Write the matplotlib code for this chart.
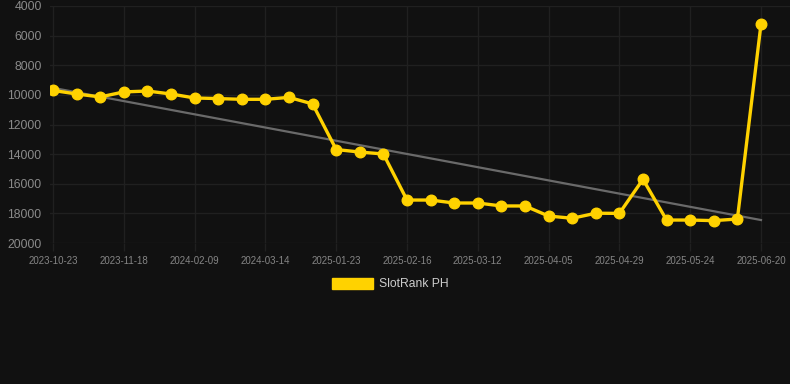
import numpy as np
import matplotlib
matplotlib.use('Agg')
import matplotlib.pyplot as plt
from matplotlib.patches import Patch

plt.rcParams['font.family'] = ['Liberation Sans', 'DejaVu Sans']

# dates of the points (every 3rd is labelled)
labels = ['2023-10-23', '2023-11-18', '2024-02-09', '2024-03-14', '2025-01-23',
          '2025-02-16', '2025-03-12', '2025-04-05', '2025-04-29', '2025-05-24',
          '2025-06-20']
rank = [9700, 9940, 10140, 9800, 9740, 9940, 10210, 10250, 10300, 10300,
        10170, 10610, 13690, 13860, 13990, 17100, 17100, 17300, 17300, 17500,
        17500, 18180, 18330, 17990, 18000, 15700, 18450, 18450, 18490, 18380,
        5240]

x = np.arange(len(rank))
bg = '#111111'
gold = '#FFD200'
gridc = '#202020'

fig = plt.figure(figsize=(7.9, 3.84), dpi=100, facecolor=bg)
ax = fig.add_axes([50/790, 1-243/384, 740/790, 237/384])
ax.set_facecolor(bg)

# trend line
k, b = np.polyfit(x, rank, 1)
ax.plot(x, k*x + b, color='#6a6a6a', lw=1.6, zorder=2)

ax.plot(x, rank, color=gold, lw=2.4, marker='o', ms=7.6, zorder=3)

ax.set_ylim(20000, 4000)
ax.set_yticks(np.arange(4000, 20001, 2000))
ax.set_xlim(-0.127, 31.23)
ax.set_xticks(x[::3])
ax.set_xticklabels(labels)

ax.grid(True, color=gridc, lw=1)
for s in ax.spines.values():
    s.set_visible(False)
ax.tick_params(axis='x', colors=gridc, length=6, width=1, labelcolor='#858585',
               labelsize=7, pad=3)
ax.tick_params(axis='y', length=0, labelcolor='#8a8a8a', labelsize=8.8, pad=6)

fig.legend(handles=[Patch(facecolor=gold, edgecolor=gold)], labels=['SlotRank PH'],
           loc='center', bbox_to_anchor=(390/790, 1-284/384), frameon=False,
           handlelength=3.4, handleheight=1.1, handletextpad=0.5,
           fontsize=8.7, labelcolor='#cccccc')

fig.savefig('out.png', dpi=100, facecolor=bg)
